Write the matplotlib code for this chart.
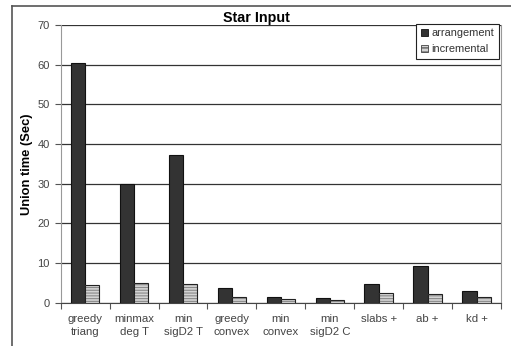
import matplotlib
matplotlib.use("Agg")
import matplotlib.pyplot as plt
from matplotlib.lines import Line2D
from matplotlib.patches import Patch
import numpy as np

plt.rcParams['font.family'] = ['Liberation Sans', 'DejaVu Sans']
plt.rcParams['hatch.linewidth'] = 0.8

categories = ["greedy\ntriang", "minmax\ndeg T", "min\nsigD2 T", "greedy\nconvex",
              "min\nconvex", "min\nsigD2 C", "slabs +", "ab +", "kd +"]
arrangement = [60.3, 29.9, 37.3, 3.6, 1.35, 1.3, 4.6, 9.2, 2.95]
incremental = [4.4, 4.9, 4.6, 1.4, 0.9, 0.8, 2.35, 2.1, 1.5]
yticks = [0, 10, 20, 30, 40, 50, 60, 70]

fig = plt.figure(figsize=(5.11, 3.46), dpi=100)
ax = fig.add_axes([0.1188, 0.1251, 0.9804 - 0.1188, 0.9277 - 0.1251])

x = np.arange(len(categories))
w = 0.29
ax.bar(x - w / 2, arrangement, w, color='#333333', edgecolor='#111111', linewidth=0.8,
       zorder=3, label='arrangement')
ax.bar(x + w / 2, incremental, w, color='#d4d4d4', edgecolor='#8a8a8a', linewidth=0,
       hatch='------', zorder=3)
ax.bar(x + w / 2, incremental, w, fill=False, edgecolor='#222222', linewidth=0.8, zorder=4)

ax.set_xlim(-0.5, len(categories) - 0.5)
ax.set_ylim(0, 70)
ax.set_yticks(yticks)
ax.set_yticklabels([str(v) for v in yticks], fontsize=8, color='#444444')
ax.yaxis.grid(True, color='#333333', linewidth=0.9, zorder=0)
ax.set_axisbelow(True)

ax.set_xticks(np.arange(len(categories) + 1) - 0.5)
ax.set_xticklabels([])
ax.set_xticks(x, minor=True)
ax.set_xticklabels(categories, minor=True, fontsize=8.2, color='#444444',
                   linespacing=1.4, va='top')
ax.tick_params(axis='x', which='major', length=4, color='#555555', direction='out')
ax.tick_params(axis='x', which='minor', length=0, pad=8)
ax.tick_params(axis='y', length=4, color='#555555', pad=4)

for s in ['left', 'right']:
    ax.spines[s].set_color('#999999')
ax.spines['top'].set_visible(False)
ax.spines['bottom'].set_color('#444444')

ax.set_ylabel('Union time (Sec)', fontsize=9.3, fontweight='bold', labelpad=3)
fig.text(256.5 / 511, 1 - 18 / 346, 'Star Input', ha='center', va='center',
         fontsize=10.3, fontweight='bold')

handles = [Patch(facecolor='#333333', edgecolor='#111111', linewidth=0.6),
           Patch(facecolor='#d4d4d4', edgecolor='#444444', hatch='----', linewidth=0.6)]
leg = ax.legend(handles, ['arrangement', 'incremental'], loc='upper right',
                bbox_to_anchor=(498.7 / 511, 1 - 24 / 346), bbox_transform=fig.transFigure,
                fontsize=7.9, frameon=True, fancybox=False, framealpha=1,
                edgecolor='#222222', handlelength=0.7, handleheight=0.7,
                handletextpad=0.3, borderpad=0.4, labelspacing=0.55, borderaxespad=0)
leg.get_frame().set_linewidth(0.8)
for t in leg.get_texts():
    t.set_color('#333333')

# outer chart frame
fig.add_artist(Line2D([12 / 511, 12 / 511], [0, 1 - 6 / 346], transform=fig.transFigure,
                      color='#555555', linewidth=1.2))
fig.add_artist(Line2D([12 / 511, 1], [1 - 6 / 346, 1 - 6 / 346], transform=fig.transFigure,
                      color='#555555', linewidth=1.2))

fig.savefig('out.png', dpi=100, facecolor='white')
